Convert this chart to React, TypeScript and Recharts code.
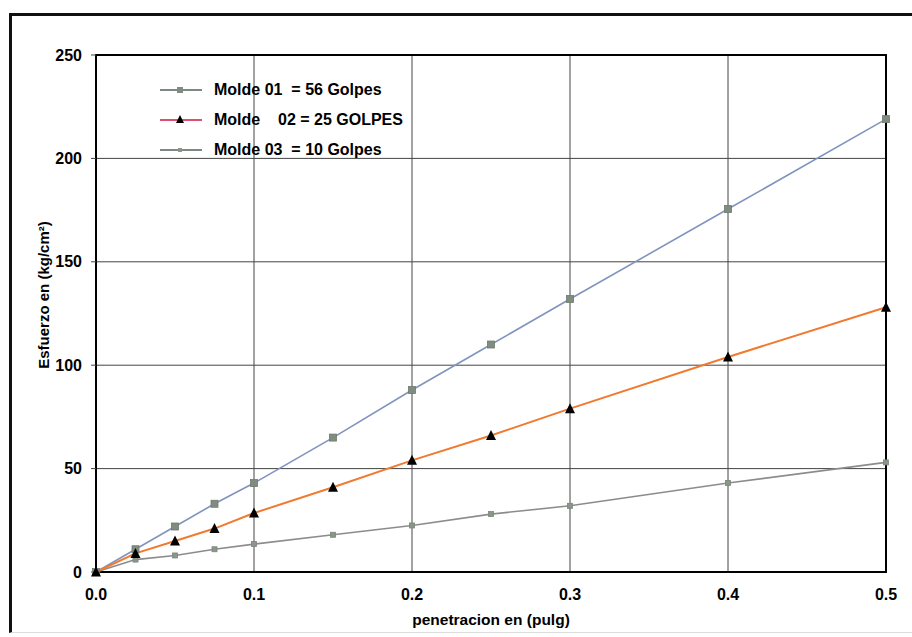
import React from 'react';
import {
  LineChart,
  Line,
  XAxis,
  YAxis,
  CartesianGrid,
  Legend,
  ReferenceArea,
} from 'recharts';

const xValues = [0, 0.025, 0.05, 0.075, 0.1, 0.15, 0.2, 0.25, 0.3, 0.4, 0.5];
const molde01 = [0, 11, 22, 33, 43, 65, 88, 110, 132, 175.5, 219];
const molde02 = [0, 9, 15, 21, 28.5, 41, 54, 66, 79, 104, 128];
const molde03 = [0, 6, 8, 11, 13.5, 18, 22.5, 28, 32, 43, 53];

const xTicks = [0, 0.1, 0.2, 0.3, 0.4, 0.5];
const yTicks = [0, 50, 100, 150, 200, 250];

const seriesNames = ['Molde 01  = 56 Golpes', 'Molde    02 = 25 GOLPES', 'Molde 03  = 10 Golpes'];
const xLabel = 'penetracion en (pulg)';
const yLabel = 'Esfuerzo en (kg/cm²)';

const data = xValues.map((x, i) => ({
  x,
  m1: molde01[i],
  m2: molde02[i],
  m3: molde03[i],
}));

const FONT = '"Liberation Sans", Arial, sans-serif';

const SquareDot = (size: number, fill: string, stroke: string) => (props: any) => {
  const { cx, cy, index } = props;
  if (cx == null || cy == null) return <g key={`d${index}`} />;
  return (
    <rect
      key={`d${index}`}
      x={cx - size / 2}
      y={cy - size / 2}
      width={size}
      height={size}
      fill={fill}
      stroke={stroke}
      strokeWidth={0.8}
    />
  );
};

const TriangleDot = (props: any) => {
  const { cx, cy, index } = props;
  if (cx == null || cy == null) return <g key={`t${index}`} />;
  const w = 10;
  const h = 9;
  return (
    <path
      key={`t${index}`}
      d={`M${cx},${cy - h / 2 - 1} L${cx + w / 2},${cy + h / 2} L${cx - w / 2},${cy + h / 2} Z`}
      fill="#000"
    />
  );
};

const legendItems = [
  { name: seriesNames[0], line: '#7d8a82', marker: 'square', mfill: '#808c80' },
  { name: seriesNames[1], line: '#e0506e', marker: 'triangle', mfill: '#000' },
  { name: seriesNames[2], line: '#7d8a82', marker: 'small', mfill: '#8a968a' },
];

const LegendContent = () => (
  <div style={{ fontFamily: FONT, fontWeight: 'bold', fontSize: 16, color: '#000' }}>
    {legendItems.map((it) => (
      <div key={it.name} style={{ display: 'flex', alignItems: 'center', height: 30 }}>
        <svg width={54} height={14} style={{ display: 'block' }}>
          <line x1={0} y1={7} x2={42} y2={7} stroke={it.line} strokeWidth={2} />
          {it.marker === 'square' && <rect x={17} y={4} width={6} height={6} fill={it.mfill} />}
          {it.marker === 'small' && <rect x={18} y={5} width={4} height={4} fill={it.mfill} />}
          {it.marker === 'triangle' && <path d="M20,2 L24,10 L16,10 Z" fill="#000" />}
        </svg>
        <span style={{ whiteSpace: 'pre', lineHeight: '16px' }}>{it.name}</span>
      </div>
    ))}
  </div>
);

const YLabel = () => (
  <text
    x={43}
    y={295}
    transform="rotate(-90 43 295)"
    textAnchor="middle"
    dominantBaseline="central"
    fontFamily={FONT}
    fontWeight="bold"
    fontSize={15}
    fill="#000"
  >
    {yLabel}
  </text>
);

const XLabel = () => (
  <text
    x={491}
    y={625}
    textAnchor="middle"
    fontFamily={FONT}
    fontWeight="bold"
    fontSize={15.5}
    fill="#000"
  >
    {xLabel}
  </text>
);

export default function App() {
  const tickStyle = { fontFamily: FONT, fontWeight: 'bold' as const, fontSize: 16, fill: '#000' };
  return (
    <div
      style={{
        position: 'fixed',
        left: 0,
        top: 0,
        width: 912,
        height: 637,
        overflow: 'hidden',
        background: '#fff',
      }}
    >
      <div
        style={{
          position: 'absolute',
          left: 9,
          top: 13,
          width: 960,
          height: 620,
          borderTop: '3px solid #111',
          borderLeft: '3px solid #111',
          borderBottom: '1px solid #ddd',
          boxSizing: 'border-box',
        }}
      />
      <div style={{ position: 'absolute', left: 0, top: 0 }}>
        <LineChart
          width={912}
          height={637}
          data={data}
          margin={{ top: 55, right: 26, bottom: 35, left: 56 }}
        >
          <CartesianGrid stroke="#444" strokeWidth={1} />
          <XAxis
            type="number"
            dataKey="x"
            domain={[0, 0.5]}
            ticks={xTicks}
            tickFormatter={(v: number) => v.toFixed(1)}
            axisLine={false}
            tickLine={false}
            tickSize={6}
            tickMargin={11}
            height={30}
            tick={tickStyle}
            interval={0}
            label={{ content: () => <XLabel /> }}
          />
          <YAxis
            type="number"
            domain={[0, 250]}
            ticks={yTicks}
            axisLine={false}
            tickLine={{ stroke: '#444' }}
            tickSize={5}
            tickMargin={9}
            width={40}
            tick={tickStyle}
            interval={0}
            label={{ content: () => <YLabel /> }}
          />
          <ReferenceArea
            x1={0}
            x2={0.5}
            y1={0}
            y2={250}
            stroke="#000"
            strokeWidth={2}
            fill="none"
            fillOpacity={0}
          />
          <Legend
            layout="vertical"
            align="center"
            verticalAlign="middle"
            content={<LegendContent />}
            wrapperStyle={{ left: 160, top: 75, width: 'auto', height: 'auto' }}
          />
          <Line
            dataKey="m3"
            name={seriesNames[2]}
            stroke="#8c8c8c"
            strokeWidth={1.6}
            dot={SquareDot(5, '#8a968a', '#7a867a')}
            isAnimationActive={false}
          />
          <Line
            dataKey="m1"
            name={seriesNames[0]}
            stroke="#8094bd"
            strokeWidth={1.6}
            dot={SquareDot(7, '#808c80', '#6e7a6e')}
            isAnimationActive={false}
          />
          <Line
            dataKey="m2"
            name={seriesNames[1]}
            stroke="#f07a30"
            strokeWidth={2}
            dot={TriangleDot}
            isAnimationActive={false}
          />
        </LineChart>
      </div>
    </div>
  );
}
